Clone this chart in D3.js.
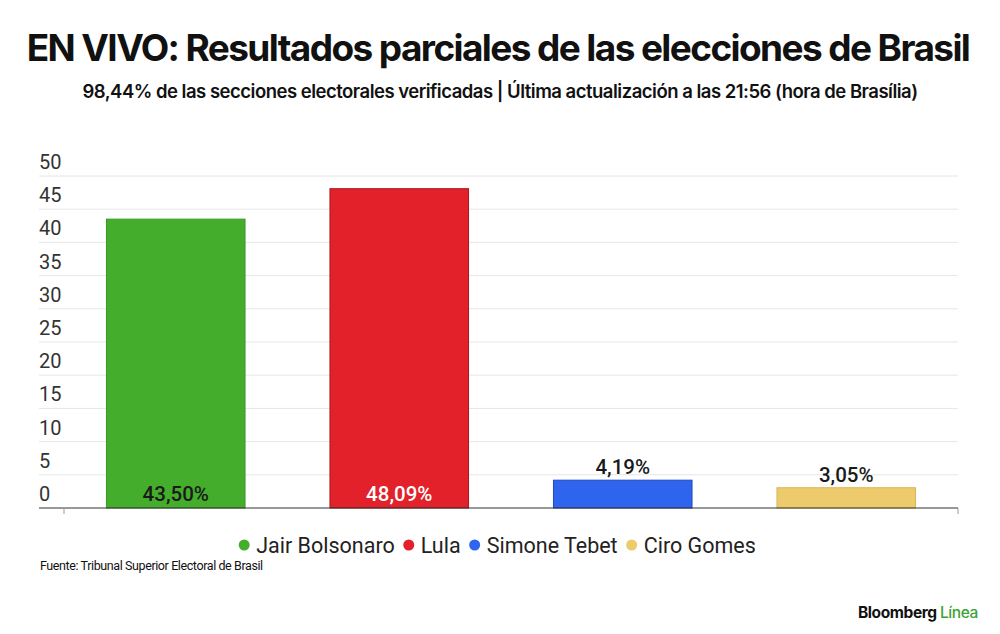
<!DOCTYPE html>
<html>
<head>
<meta charset="utf-8">
<script src="https://cdn.jsdelivr.net/npm/d3@7"></script>
<style>
  body { margin: 0; background: #fff; }
  svg { display: block; font-family: Roboto, "Noto Sans", sans-serif; }
</style>
</head>
<body>
<svg width="1000" height="634"></svg>
<script>
// data
var candidates = ['Jair Bolsonaro', 'Lula', 'Simone Tebet', 'Ciro Gomes'];
var votes = [43.50, 48.09, 4.19, 3.05];
var colors = ['#44ae2c', '#e2212a', '#2f64ef', '#edca6b'];
var strokes = ['#3a9625', '#a8161c', '#1f4bbf', '#d9b455'];
var yTicks = [0, 5, 10, 15, 20, 25, 30, 35, 40, 45, 50];

var svg = d3.select('svg');

// titles
svg.append('text')
   .attr('x', 498).attr('y', 61)
   .attr('text-anchor', 'middle')
   .attr('font-family', 'Inter, sans-serif')
   .attr('font-weight', 700)
   .attr('font-size', 37)
   .attr('letter-spacing', -1.6)
   .attr('fill', '#111')
   .text('EN VIVO: Resultados parciales de las elecciones de Brasil');

svg.append('text')
   .attr('x', 500).attr('y', 98)
   .attr('text-anchor', 'middle')
   .attr('font-family', 'Inter, sans-serif')
   .attr('font-weight', 600)
   .attr('font-size', 18.5)
   .attr('letter-spacing', -0.5)
   .attr('fill', '#111')
   .text('98,44% de las secciones electorales verificadas | Última actualización a las 21:56 (hora de Brasília)');

// scales
var x = d3.scaleBand()
    .domain(candidates)
    .range([64, 958])
    .paddingInner(0.38)
    .paddingOuter(0.19);

var y = d3.scaleLinear()
    .domain([0, 50])
    .range([508, 176]);

// grid
svg.append('g').selectAll('line')
   .data(yTicks.filter(function(d) { return d > 0; }))
   .enter().append('line')
   .attr('x1', 39).attr('x2', 958)
   .attr('y1', function(d) { return y(d); })
   .attr('y2', function(d) { return y(d); })
   .attr('stroke', '#e6e6e6')
   .attr('stroke-width', 1);

// y labels (sit above their gridline)
svg.append('g').selectAll('text')
   .data(yTicks)
   .enter().append('text')
   .attr('x', 39)
   .attr('y', function(d) { return y(d) - 7; })
   .attr('font-size', 20)
   .attr('fill', '#333')
   .text(function(d) { return d; });

// bars
svg.append('g').selectAll('rect')
   .data(votes)
   .enter().append('rect')
   .attr('x', function(d, i) { return x(candidates[i]); })
   .attr('y', function(d) { return y(d); })
   .attr('width', x.bandwidth())
   .attr('height', function(d) { return y(0) - y(d); })
   .attr('fill', function(d, i) { return colors[i]; })
   .attr('stroke', function(d, i) { return strokes[i]; })
   .attr('stroke-width', 1);

// baseline + ticks
svg.append('line')
   .attr('x1', 39).attr('x2', 958)
   .attr('y1', y(0)).attr('y2', y(0))
   .attr('stroke', '#333').attr('stroke-width', 1.2);
svg.append('g').selectAll('line')
   .data([64, 958])
   .enter().append('line')
   .attr('x1', function(d) { return d; }).attr('x2', function(d) { return d; })
   .attr('y1', y(0)).attr('y2', y(0) + 6)
   .attr('stroke', '#999');

// value labels
function fmt(v) { return v.toFixed(2).replace('.', ',') + '%'; }
svg.append('g').selectAll('text')
   .data(votes)
   .enter().append('text')
   .attr('x', function(d, i) { return x(candidates[i]) + x.bandwidth() / 2; })
   .attr('y', function(d) { return d > 10 ? y(0) - 7 : y(d) - 6; })
   .attr('text-anchor', 'middle')
   .attr('font-size', 20.5)
   .attr('font-weight', 500)
   .attr('fill', function(d, i) { return i == 1 ? '#fff' : '#1a1a1a'; })
   .text(fmt);

// legend
var legend = svg.append('g');
var lx = 0;
candidates.forEach(function(c, i) {
  legend.append('circle')
     .attr('cx', lx + 6).attr('cy', 545).attr('r', 5.5)
     .attr('fill', colors[i]);
  var t = legend.append('text')
     .attr('x', lx + 18).attr('y', 552.5)
     .attr('font-size', 21.5)
     .attr('fill', '#222')
     .text(c);
  lx += 18 + t.node().getComputedTextLength() + 8;
});
// center legend
var lw = lx - 8;
legend.attr('transform', 'translate(' + (497 - lw / 2) + ',0)');

// source
svg.append('text')
   .attr('x', 40).attr('y', 570)
   .attr('font-size', 12.5)
   .attr('letter-spacing', -0.4)
   .attr('fill', '#111')
   .text('Fuente: Tribunal Superior Electoral de Brasil');

// brand
var brand = svg.append('text')
   .attr('x', 978).attr('y', 618)
   .attr('text-anchor', 'end')
   .attr('font-family', 'Inter, sans-serif')
   .attr('font-weight', 700)
   .attr('font-size', 15.5)
   .attr('letter-spacing', -0.4);
brand.append('tspan').attr('fill', '#111').text('Bloomberg ');
brand.append('tspan').attr('fill', '#3aa335').attr('font-weight', 500).text('Línea');
</script>
</body>
</html>
